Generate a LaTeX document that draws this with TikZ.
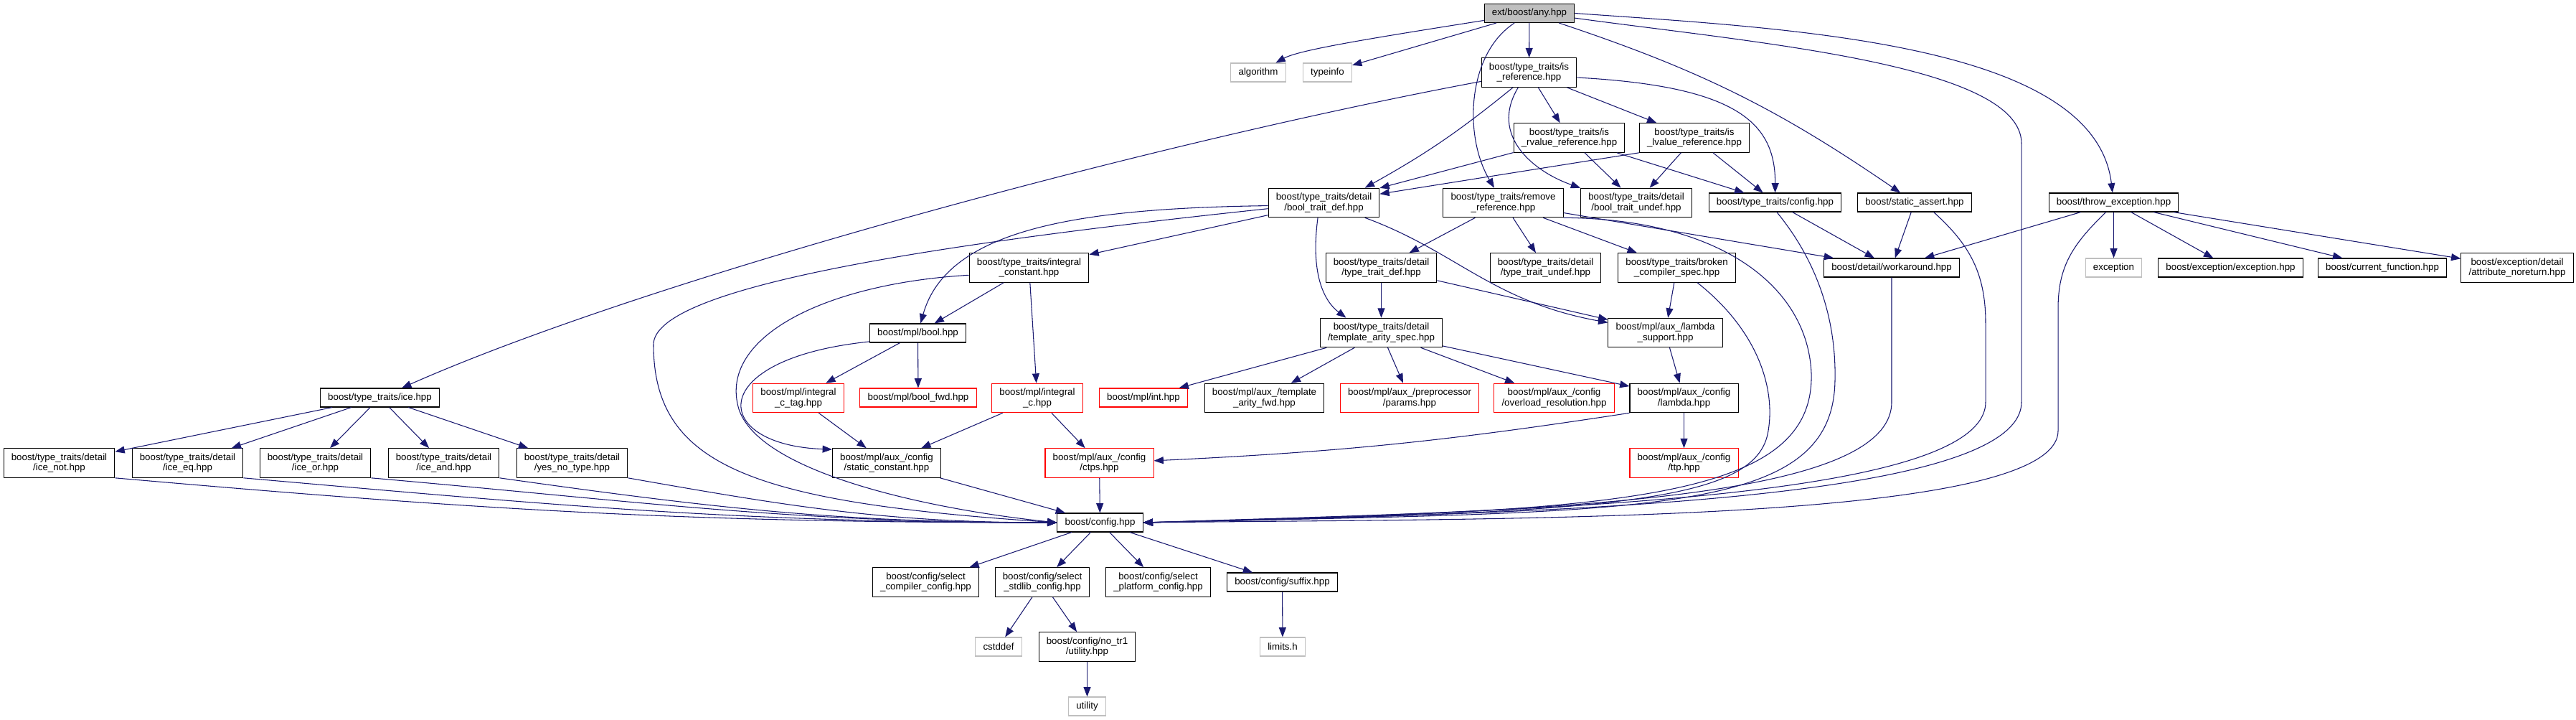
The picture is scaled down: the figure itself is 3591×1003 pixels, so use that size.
\documentclass[tikz,border=0pt]{standalone}
\usepackage{fontspec}
\setmainfont{Liberation Sans}
\usetikzlibrary{arrows.meta}
\definecolor{edgeblue}{RGB}{25,25,112}
\definecolor{sysgray}{RGB}{191,191,191}

\begin{document}
\begin{tikzpicture}[
    x=0.75pt, y=0.75pt,
    font=\fontsize{10}{10.7}\selectfont,
    incfile/.style={rectangle, draw=black, line width=0.8pt, fill=white, align=center,
      inner xsep=8pt, inner ysep=1pt, minimum height=19.5pt},
    dbl/.style={minimum height=30.4pt},
    rootfile/.style={incfile, fill=sysgray},
    sysfile/.style={incfile, draw=sysgray},
    missfile/.style={incfile, draw=red},
    dep/.style={-{Triangle[length=10pt, width=7.5pt]}, edgeblue, line width=0.8pt},
  ]
  \useasboundingbox (0,0) rectangle (3591,-1003);

  \node[rootfile] (any) at (2132,-18.5) {ext/boost/any.hpp};
  \node[sysfile] (algorithm) at (1754,-101) {algorithm};
  \node[sysfile] (typeinfo) at (1850.5,-101) {typeinfo};
  \node[incfile, dbl] (isref) at (2131.5,-101) {boost/type\_traits/is\\\_reference.hpp};
  \node[incfile, dbl] (isrval) at (2187.5,-192) {boost/type\_traits/is\\\_rvalue\_reference.hpp};
  \node[incfile, dbl] (islval) at (2362,-192) {boost/type\_traits/is\\\_lvalue\_reference.hpp};
  \node[incfile, dbl] (booldef) at (1845.5,-282.5) {boost/type\_traits/detail\\/bool\_trait\_def.hpp};
  \node[incfile, dbl] (remref) at (2095.5,-282.5) {boost/type\_traits/remove\\\_reference.hpp};
  \node[incfile, dbl] (boolundef) at (2281,-282.5) {boost/type\_traits/detail\\/bool\_trait\_undef.hpp};
  \node[incfile] (ttconfig) at (2474.5,-282) {boost/type\_traits/config.hpp};
  \node[incfile] (sassert) at (2669,-282) {boost/static\_assert.hpp};
  \node[incfile] (throwex) at (2946.5,-282) {boost/throw\_exception.hpp};
  \node[incfile, dbl] (intconst) at (1434.5,-373) {boost/type\_traits/integral\\\_constant.hpp};
  \node[incfile, dbl] (ttdef) at (1925.5,-373) {boost/type\_traits/detail\\/type\_trait\_def.hpp};
  \node[incfile, dbl] (ttundef) at (2154.5,-373) {boost/type\_traits/detail\\/type\_trait\_undef.hpp};
  \node[incfile, dbl] (broken) at (2337.5,-373) {boost/type\_traits/broken\\\_compiler\_spec.hpp};
  \node[incfile] (workaround) at (2637,-373) {boost/detail/workaround.hpp};
  \node[sysfile] (exception) at (2946.5,-373) {exception};
  \node[incfile] (exexception) at (3109.5,-373) {boost/exception/exception.hpp};
  \node[incfile] (curfunc) at (3321,-373) {boost/current\_function.hpp};
  \node[incfile, dbl] (noreturn) at (3509,-373) {boost/exception/detail\\/attribute\_noreturn.hpp};
  \node[incfile] (mplbool) at (1279.5,-464) {boost/mpl/bool.hpp};
  \node[incfile, dbl] (tmplspec) at (1925.5,-463.5) {boost/type\_traits/detail\\/template\_arity\_spec.hpp};
  \node[incfile, dbl] (lambdasup) at (2321.5,-463.5) {boost/mpl/aux\_/lambda\\\_support.hpp};
  \node[incfile] (ice) at (529.5,-554) {boost/type\_traits/ice.hpp};
  \node[missfile, dbl] (intctag) at (1113,-554.5) {boost/mpl/integral\\\_c\_tag.hpp};
  \node[missfile] (boolfwd) at (1280,-554) {boost/mpl/bool\_fwd.hpp};
  \node[missfile, dbl] (intc) at (1446,-554.5) {boost/mpl/integral\\\_c.hpp};
  \node[missfile] (mplint) at (1594,-554) {boost/mpl/int.hpp};
  \node[incfile, dbl] (arityfwd) at (1762.5,-554.5) {boost/mpl/aux\_/template\\\_arity\_fwd.hpp};
  \node[missfile, dbl] (params) at (1965,-554.5) {boost/mpl/aux\_/preprocessor\\/params.hpp};
  \node[missfile, dbl] (overload) at (2166.5,-554.5) {boost/mpl/aux\_/config\\/overload\_resolution.hpp};
  \node[incfile, dbl] (lambda) at (2347.5,-554.5) {boost/mpl/aux\_/config\\/lambda.hpp};
  \node[incfile, dbl] (icenot) at (82.5,-645) {boost/type\_traits/detail\\/ice\_not.hpp};
  \node[incfile, dbl] (iceeq) at (261.5,-645) {boost/type\_traits/detail\\/ice\_eq.hpp};
  \node[incfile, dbl] (iceor) at (439.5,-645) {boost/type\_traits/detail\\/ice\_or.hpp};
  \node[incfile, dbl] (iceand) at (618.5,-645) {boost/type\_traits/detail\\/ice\_and.hpp};
  \node[incfile, dbl] (yesno) at (797.5,-645) {boost/type\_traits/detail\\/yes\_no\_type.hpp};
  \node[incfile, dbl] (staticconst) at (1236,-645) {boost/mpl/aux\_/config\\/static\_constant.hpp};
  \node[missfile, dbl] (ctps) at (1532.5,-645) {boost/mpl/aux\_/config\\/ctps.hpp};
  \node[missfile, dbl] (ttp) at (2347.5,-645) {boost/mpl/aux\_/config\\/ttp.hpp};
  \node[incfile] (config) at (1533.5,-728) {boost/config.hpp};
  \node[incfile, dbl] (selcomp) at (1290.5,-811) {boost/config/select\\\_compiler\_config.hpp};
  \node[incfile, dbl] (selstd) at (1453,-811) {boost/config/select\\\_stdlib\_config.hpp};
  \node[incfile, dbl] (selplat) at (1614.5,-811) {boost/config/select\\\_platform\_config.hpp};
  \node[incfile] (suffix) at (1787.5,-811) {boost/config/suffix.hpp};
  \node[sysfile] (cstddef) at (1392,-901) {cstddef};
  \node[incfile, dbl] (notr1) at (1515.5,-901) {boost/config/no\_tr1\\/utility.hpp};
  \node[sysfile] (limits) at (1788,-901) {limits.h};
  \node[sysfile] (utility) at (1515.5,-984) {utility};

  \draw[dep] (any) .. controls (1900,-55) and (1810,-70) .. (algorithm);
  \draw[dep] (any) -- (typeinfo);
  \draw[dep] (any) -- (isref);
  \draw[dep] (any) .. controls (2045,-75) and (2040,-190) .. (remref);
  \draw[dep] (any) to[bend left=8] (sassert);
  \draw[dep] (any.east) .. controls (2500,-40) and (2920,-60) .. (throwex);
  \draw[dep] (any.-6) .. controls (2450,-60) and (2818,-90) .. (2818,-200) -- (2818,-560)
    .. controls (2818,-705) and (2100,-715) .. (config.east);

  \draw[dep] (isref) .. controls (1600,-200) and (900,-390) .. (ice);
  \draw[dep] (isref.-137) to[bend left=5] (booldef.20);
  \draw[dep] (isref.-126) .. controls (2075,-190) and (2140,-240) .. (boolundef.north west);
  \draw[dep] (isref) -- (isrval);
  \draw[dep] (isref) -- (islval);
  \draw[dep] (isref.-6) .. controls (2420,-120) and (2475,-170) .. (ttconfig);

  \draw[dep] (isrval) -- (booldef);
  \draw[dep] (isrval) -- (boolundef);
  \draw[dep] (isrval) -- (ttconfig);
  \draw[dep] (islval.south west) -- (booldef);
  \draw[dep] (islval) -- (boolundef);
  \draw[dep] (islval) -- (ttconfig);

  \draw[dep] (booldef.-177) .. controls (1500,-290) and (1320,-320) .. (mplbool);
  \draw[dep] (booldef.-174) .. controls (1300,-340) and (911,-400) .. (911,-480)
    .. controls (911,-650) and (1050,-700) .. (config.west);
  \draw[dep] (booldef) -- (intconst);
  \draw[dep] (booldef.-112) .. controls (1828,-370) and (1840,-415) .. (tmplspec.157);
  \draw[dep] (booldef.-20) .. controls (2030,-350) and (2080,-420) .. (lambdasup.170);

  \draw[dep] (remref) -- (ttdef);
  \draw[dep] (remref) -- (ttundef);
  \draw[dep] (remref) -- (broken);
  \draw[dep] (remref) -- (workaround);
  \draw[dep] (remref.south east) .. controls (2400,-305) and (2520,-400) .. (2525,-520)
    .. controls (2530,-700) and (2250,-712) .. (config.east);

  \draw[dep] (ttconfig) -- (workaround);
  \draw[dep] (ttconfig.-80) .. controls (2530,-360) and (2560,-440) .. (2558,-530)
    .. controls (2555,-720) and (2300,-712) .. (config.east);

  \draw[dep] (sassert) -- (workaround);
  \draw[dep] (sassert.-27) .. controls (2745,-340) and (2768,-380) .. (2768,-450) -- (2768,-560)
    .. controls (2768,-700) and (2100,-712) .. (config.east);

  \draw[dep] (throwex) -- (workaround);
  \draw[dep] (throwex) -- (exception);
  \draw[dep] (throwex) -- (exexception);
  \draw[dep] (throwex) -- (curfunc);
  \draw[dep] (throwex) -- (noreturn);
  \draw[dep] (throwex.-129) .. controls (2890,-340) and (2869,-370) .. (2869,-430) -- (2869,-600)
    .. controls (2869,-730) and (2100,-722) .. (config.east);

  \draw[dep] (workaround.south) -- (2637,-560) .. controls (2637,-700) and (2150,-712) .. (config.east);

  \draw[dep] (broken) -- (lambdasup);
  \draw[dep] (broken.-36) .. controls (2450,-460) and (2475,-540) .. (2465,-600)
    .. controls (2450,-700) and (2250,-714) .. (config.east);

  \draw[dep] (ttdef) -- (tmplspec);
  \draw[dep] (ttdef) -- (lambdasup);

  \draw[dep] (intconst) -- (mplbool);
  \draw[dep] (intconst) -- (intc);
  \draw[dep] (intconst.-173) .. controls (1150,-395) and (1000,-470) .. (1030,-570)
    .. controls (1060,-660) and (1300,-710) .. (config.west);

  \draw[dep] (mplbool) -- (intctag);
  \draw[dep] (mplbool) -- (boolfwd);
  \draw[dep] (mplbool.-170) .. controls (980,-500) and (990,-620) .. (staticconst.166);

  \draw[dep] (intctag) -- (staticconst);
  \draw[dep] (intc) -- (staticconst);
  \draw[dep] (intc) -- (ctps);

  \draw[dep] (tmplspec) -- (mplint);
  \draw[dep] (tmplspec) -- (arityfwd);
  \draw[dep] (tmplspec) -- (params);
  \draw[dep] (tmplspec) -- (overload);
  \draw[dep] (tmplspec) -- (lambda);
  \draw[dep] (lambdasup) -- (lambda);
  \draw[dep] (lambda) -- (ttp);
  \draw[dep] (lambda.south west) to[bend left=3] (ctps);

  \draw[dep] (ice) -- (icenot);
  \draw[dep] (ice) -- (iceeq);
  \draw[dep] (ice) -- (iceor);
  \draw[dep] (ice) -- (iceand);
  \draw[dep] (ice) -- (yesno);
  \draw[dep] (icenot.south east) to[out=-5, in=180] (config.west);
  \draw[dep] (iceeq.south east) to[out=-5, in=180] (config.west);
  \draw[dep] (iceor.south east) to[out=-5, in=180] (config.west);
  \draw[dep] (iceand.south east) to[out=-8, in=180] (config.west);
  \draw[dep] (yesno.south east) to[out=-10, in=180] (config.west);

  \draw[dep] (staticconst) -- (config);
  \draw[dep] (ctps) -- (config);
  \draw[dep] (config) -- (selcomp);
  \draw[dep] (config) -- (selstd);
  \draw[dep] (config) -- (selplat);
  \draw[dep] (config) -- (suffix);
  \draw[dep] (selstd) -- (cstddef);
  \draw[dep] (selstd) -- (notr1);
  \draw[dep] (notr1) -- (utility);
  \draw[dep] (suffix) -- (limits);
\end{tikzpicture}
\end{document}
